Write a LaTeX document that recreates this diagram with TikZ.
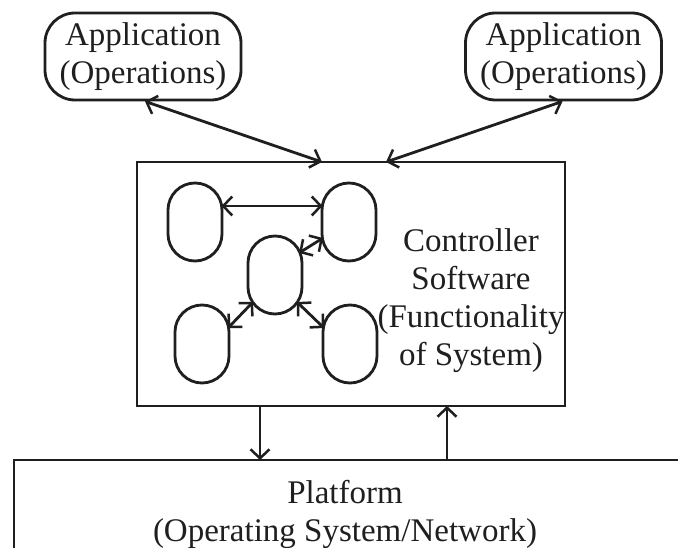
\documentclass[tikz,border=0pt]{standalone}
\usepackage{fontspec}
\setmainfont{Liberation Serif}
\usetikzlibrary{arrows.meta,calc,shapes.misc}
\definecolor{ink}{gray}{0.12}
\tikzset{
  every node/.style={font=\fontsize{33}{38}\selectfont, text=ink},
  line/.style={draw=ink, line width=2.8pt},
  tip/.tip={Straight Barb[length=9pt,width=19pt,line width=2.5pt]},
  appbox/.style={line, rounded corners=30pt, align=center, inner sep=0pt,
    minimum width=196pt, minimum height=87pt},
  blob/.style={line, rounded rectangle, rotate=90, minimum width=78pt, minimum height=54pt, inner sep=0pt},
  link/.style={line, tip-tip},
  oneway/.style={line, -tip}
}
\begin{document}
\begin{tikzpicture}[x=1pt,y=-1pt]
\useasboundingbox (0,0) rectangle (678,548);
\clip (0,0) rectangle (678,548);
\fill[white] (0,0) rectangle (678,548);

% application boxes
\node[appbox] (appL) at (143,56.5) {Application\\(Operations)};
\node[appbox] (appR) at (563.5,56.5) {Application\\(Operations)};

% controller box
\node[line, rectangle, minimum width=428pt, minimum height=244pt, inner sep=0pt] (ctrl) at (351,284) {};
\coordinate (ctopL) at (322,162);
\coordinate (ctopR) at (386,162);
\coordinate (cbotL) at (260,406);
\coordinate (cbotR) at (447,406);

% functional blocks inside the controller
\node[blob] (tl) at (195,222) {};
\node[blob] (tr) at (349,222) {};
\node[blob] (md) at (275,275) {};
\node[blob] (bl) at (202,344) {};
\node[blob] (br) at (350,344) {};

\node[align=center] (ctext) at (471,301) {Controller\\Software\\(Functionality\\of System)};

% platform box, running off the right and bottom edges
\node[line, rectangle, minimum width=700pt, minimum height=140pt, inner sep=0pt] (plat) at (364,530) {};
\node[align=center] (ptext) at (345,514) {Platform\\(Operating System/Network)};
\coordinate (ptopL) at (260,460);
\coordinate (ptopR) at (447,460);

% connectors
\draw[link] (appL.south) ++(2,0) coordinate (aL) -- (ctopL);
\draw[link] (appR.south) ++(-1,0) coordinate (aR) -- (ctopR);
\draw[link] ($(tl.center)+(26.5,-16)$) -- ($(tr.center)+(-26.5,-16)$);
\draw[link] ($(md.center)+(24,-22)$) -- ($(tr.center)+(-26,16)$);
\draw[link] ($(md.center)+(-22,27)$) -- ($(bl.center)+(26,-16)$);
\draw[link] ($(md.center)+(22,27)$) -- ($(br.center)+(-26,-16)$);
\draw[oneway] (cbotL) -- (ptopL);
\draw[oneway] (ptopR) -- (cbotR);
\end{tikzpicture}
\end{document}
